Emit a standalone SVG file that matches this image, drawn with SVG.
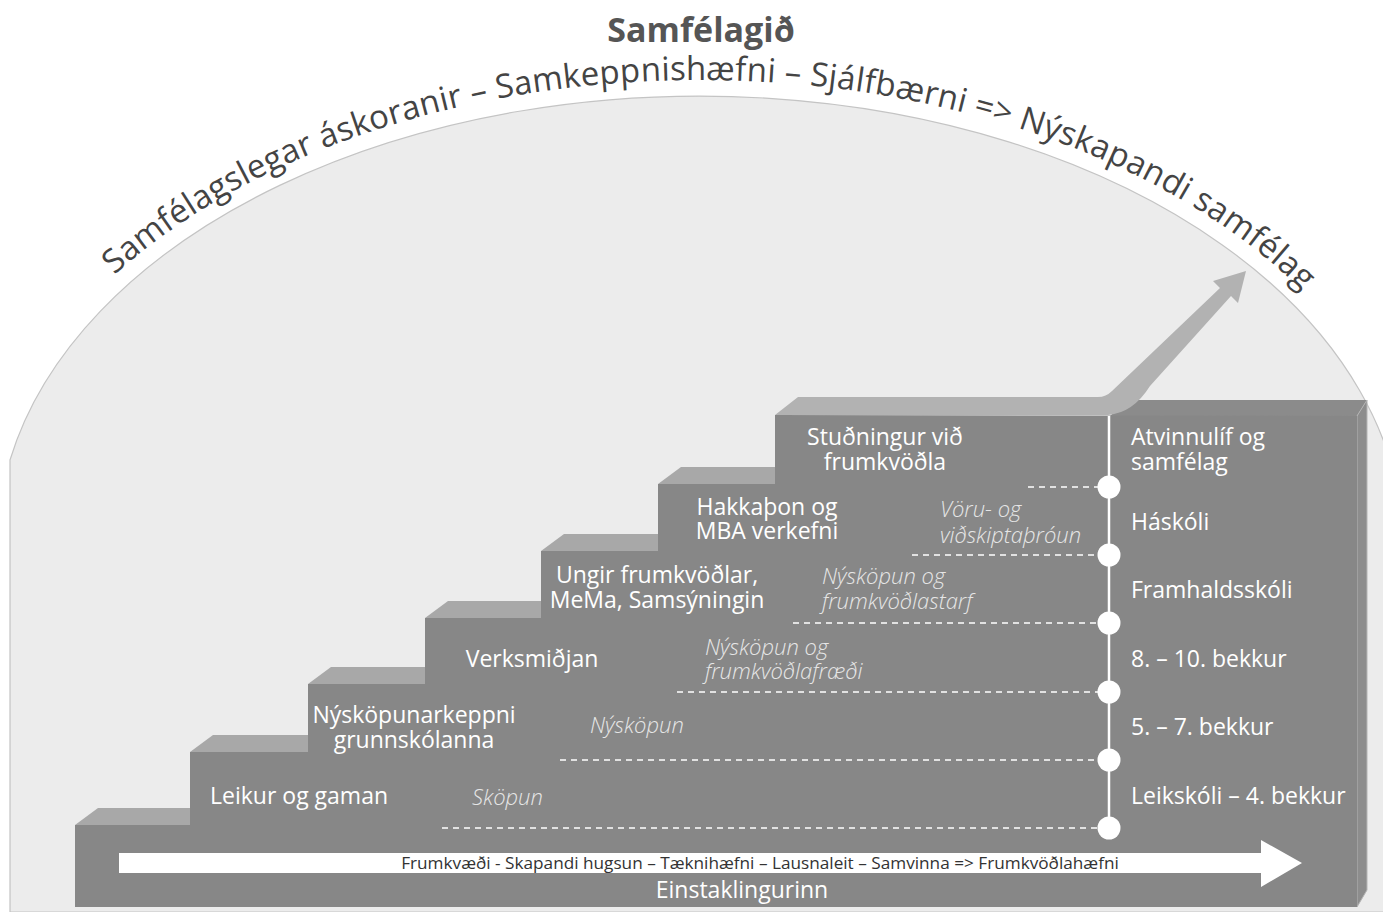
<svg xmlns="http://www.w3.org/2000/svg" width="1383" height="912" viewBox="0 0 1383 912">
<style>
.lbl{font-family:"Open Sans","Noto Sans","Liberation Sans",sans-serif;font-size:23px;fill:#ffffff}
.it{font-family:"Open Sans","Noto Sans","Liberation Sans",sans-serif;font-size:22px;font-style:italic;font-weight:300;fill:#e6e6e6}
.mid{text-anchor:middle}
.front{fill:#878787}
.top{fill:#a8a8a8}
.dash{stroke:#ffffff;stroke-width:1.5;stroke-dasharray:6 5;fill:none}
.dot{fill:#ffffff}
</style>
<defs>
<path id="arc" d="M -21,548 A 721,468 0 0 1 1421,548"/>
</defs>
<rect width="1383" height="912" fill="#ffffff"/>
<g id="dome">
<path d="M 10,912 L 10,460 A 703,450 0 0 1 1403,548 L 1403,912 Z" fill="#ececec" stroke="#c4c4c4" stroke-width="1.2"/>
</g>
<g id="title">
<text x="701" y="42" text-anchor="middle" font-family="'Open Sans','Noto Sans','Liberation Sans',sans-serif" font-weight="700" font-size="34" fill="#555555">Samfélagið</text>
<text font-family="'Open Sans','Noto Sans','Liberation Sans',sans-serif" font-size="33" fill="#444444"><textPath href="#arc" startOffset="314" textLength="1284" lengthAdjust="spacing">Samfélagslegar áskoranir – Samkeppnishæfni – Sjálfbærni =&gt; Nýskapandi samfélag</textPath></text>
</g>
<g id="staircase">
<polygon points="1110,416 1128,400 1367,400 1357,416" fill="#8b8b8b"/>
<polygon points="1357,416 1367,400 1367,890 1357,907" fill="#8d8d8d" stroke="#b4b4b4" stroke-width="1"/>
<polygon class="front" points="75,825 190,825 190,752 308,752 308,684 425,684 425,618 541,618 541,551 658,551 658,484 775,484 775,415 1357,416 1357,907 75,907"/>
<polygon class="top" points="75,825 98,808 190,808 190,825"/>
<polygon class="top" points="190,752 213,735 308,735 308,752"/>
<polygon class="top" points="308,684 331,667 425,667 425,684"/>
<polygon class="top" points="425,618 448,601 541,601 541,618"/>
<polygon class="top" points="541,551 564,534 658,534 658,551"/>
<polygon class="top" points="658,484 681,467 775,467 775,484"/>
</g>
<g id="rise-arrow">
<path d="M 775,415 L 798,397 L 1098,397 Q 1106,397 1112,391 L 1220,288 L 1213,281 L 1246,271 L 1238,303 L 1231,296 L 1150,386 Q 1133,413 1108,415 Z" fill="#b2b2b2"/>
</g>
<g id="connectors">
<line x1="1109" y1="416" x2="1109" y2="828" stroke="#ffffff" stroke-width="2.5"/>
<line class="dash" x1="1028" y1="487" x2="1098" y2="487"/>
<line class="dash" x1="912" y1="555" x2="1098" y2="555"/>
<line class="dash" x1="793" y1="623" x2="1098" y2="623"/>
<line class="dash" x1="677" y1="692" x2="1098" y2="692"/>
<line class="dash" x1="560" y1="760" x2="1098" y2="760"/>
<line class="dash" x1="442" y1="828" x2="1098" y2="828"/>
</g>
<g id="stage-dots">
<circle class="dot" cx="1109" cy="487" r="11.5"/>
<circle class="dot" cx="1109" cy="555" r="11.5"/>
<circle class="dot" cx="1109" cy="623" r="11.5"/>
<circle class="dot" cx="1109" cy="692" r="11.5"/>
<circle class="dot" cx="1109" cy="760" r="11.5"/>
<circle class="dot" cx="1109" cy="828" r="11.5"/>
</g>
<g id="step-1"><text class="lbl" x="210" y="804">Leikur og gaman</text></g>
<g id="step-2"><text class="lbl mid" x="414" y="723">Nýsköpunarkeppni</text><text class="lbl mid" x="414" y="748">grunnskólanna</text></g>
<g id="step-3"><text class="lbl mid" x="532" y="667">Verksmiðjan</text></g>
<g id="step-4"><text class="lbl mid" x="657" y="583">Ungir frumkvöðlar,</text><text class="lbl mid" x="657" y="608">MeMa, Samsýningin</text></g>
<g id="step-5"><text class="lbl mid" x="767" y="515">Hakkaþon og</text><text class="lbl mid" x="767" y="539">MBA verkefni</text></g>
<g id="step-6"><text class="lbl mid" x="885" y="445">Stuðningur við</text><text class="lbl mid" x="885" y="470">frumkvöðla</text></g>
<g id="activities">
<text class="it" x="472" y="805">Sköpun</text>
<text class="it" x="590" y="733">Nýsköpun</text>
<text class="it" x="705" y="655">Nýsköpun og</text><text class="it" x="705" y="679">frumkvöðlafræði</text>
<text class="it" x="822" y="584">Nýsköpun og</text><text class="it" x="822" y="609">frumkvöðlastarf</text>
<text class="it" x="940" y="517">Vöru- og</text><text class="it" x="940" y="543">viðskiptaþróun</text>
</g>
<g id="levels">
<text class="lbl" x="1131" y="445">Atvinnulíf og</text><text class="lbl" x="1131" y="470">samfélag</text>
<text class="lbl" x="1131" y="530">Háskóli</text>
<text class="lbl" x="1131" y="598">Framhaldsskóli</text>
<text class="lbl" x="1131" y="667">8. – 10. bekkur</text>
<text class="lbl" x="1131" y="735">5. – 7. bekkur</text>
<text class="lbl" x="1131" y="804">Leikskóli – 4. bekkur</text>
</g>
<g id="individual-arrow">
<polygon points="119,853 1261,853 1261,840 1302,863 1261,887 1261,873 119,873" fill="#ffffff"/>
<text x="760" y="869" text-anchor="middle" font-family="'Open Sans','Noto Sans','Liberation Sans',sans-serif" font-size="17.2" fill="#333333">Frumkvæði - Skapandi hugsun – Tæknihæfni – Lausnaleit – Samvinna =&gt; Frumkvöðlahæfni</text>
<text class="lbl mid" x="742" y="898">Einstaklingurinn</text>
</g>
</svg>
